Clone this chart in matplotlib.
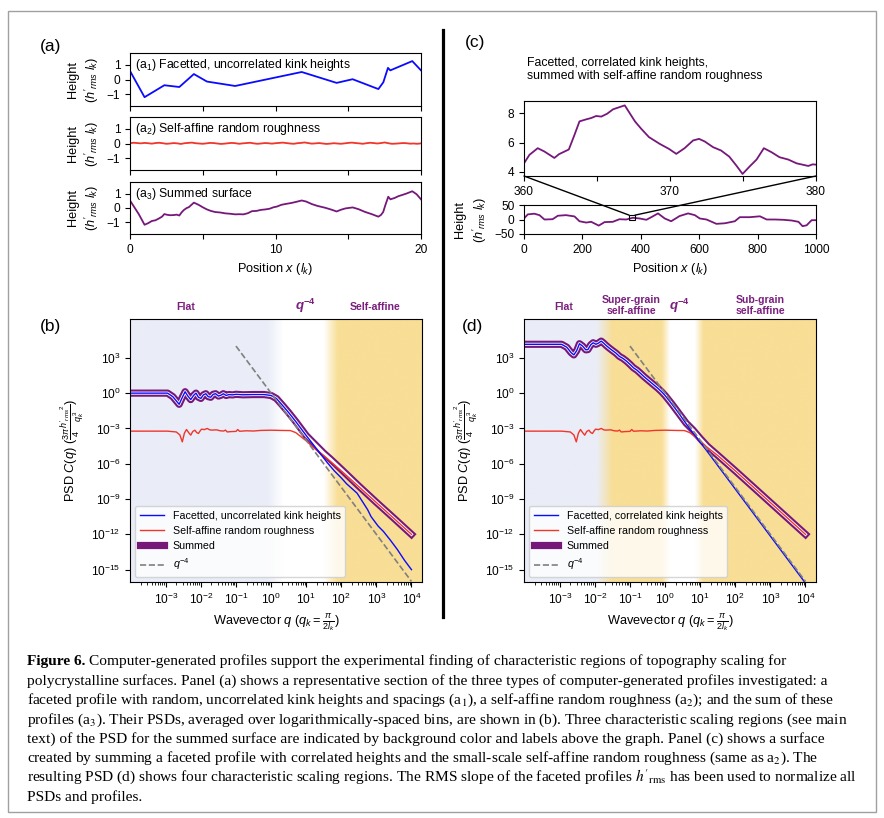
import numpy as np
import matplotlib
matplotlib.use('Agg')
import matplotlib.pyplot as plt
from matplotlib.patches import Rectangle, ConnectionPatch
from matplotlib.lines import Line2D
from matplotlib import ticker
from matplotlib.colors import to_rgb

plt.rcParams['font.family'] = ['Liberation Sans', 'DejaVu Sans']
plt.rcParams['mathtext.fontset'] = 'custom'
plt.rcParams['mathtext.rm'] = 'Liberation Sans'
plt.rcParams['mathtext.it'] = 'Liberation Sans:italic'
plt.rcParams['mathtext.bf'] = 'Liberation Sans:bold'
plt.rcParams['mathtext.bfit'] = 'Liberation Sans:italic:bold'
plt.rcParams['xtick.labelsize'] = 8.6
plt.rcParams['ytick.labelsize'] = 8.6
plt.rcParams['axes.labelsize'] = 9.2

# ---------------- data ----------------
# (a1) facetted profile, uncorrelated kink heights
a1_x = [0.0, 1.0, 2.36, 3.39, 4.39, 5.29, 7.23, 11.8, 14.2, 15.3, 17.07, 17.41, 17.73, 17.89, 19.4, 20.0]
a1_y = [0.58, -1.2, -0.39, -0.51, 0.37, -0.14, -0.44, 0.51, -0.23, 0.02, -0.65, -0.19, 0.79, 0.62, 1.25, 0.62]

# (a2) self-affine random roughness
a2_x = [0.0, 0.25, 0.5, 0.75, 1.0, 1.25, 1.5, 1.75, 2.0, 2.25, 2.5, 2.75, 3.0, 3.25, 3.5, 3.75,
        4.0, 4.25, 4.5, 4.75, 5.0, 5.25, 5.5, 5.75, 6.0, 6.25, 6.5, 6.75, 7.0, 7.25, 7.5, 7.75,
        8.0, 8.25, 8.5, 8.75, 9.0, 9.25, 9.5, 9.75, 10.0, 10.25, 10.5, 10.75, 11.0, 11.25, 11.5, 11.75,
        12.0, 12.25, 12.5, 12.75, 13.0, 13.25, 13.5, 13.75, 14.0, 14.25, 14.5, 14.75, 15.0, 15.25, 15.5, 15.75,
        16.0, 16.25, 16.5, 16.75, 17.0, 17.25, 17.5, 17.75, 18.0, 18.25, 18.5, 18.75, 19.0, 19.25, 19.5, 19.75, 20.0]
a2_y = [0.02, 0.05, 0.03, 0.01, 0.04, 0.02, -0.01, 0.03, 0.05, 0.02, -0.02, 0.0, 0.03, 0.01, -0.03, 0.02,
        0.04, 0.06, 0.02, 0.0, -0.02, 0.01, 0.04, 0.03, 0.0, -0.03, -0.01, 0.02, 0.04, 0.02, -0.02, 0.01,
        0.03, 0.05, 0.01, -0.02, 0.0, 0.03, 0.02, -0.01, 0.02, 0.04, 0.06, 0.03, 0.0, -0.02, 0.02, 0.04,
        0.07, 0.03, -0.01, 0.01, 0.03, 0.0, -0.03, -0.01, 0.02, 0.0, -0.02, 0.01, 0.04, 0.06, 0.03, 0.01,
        -0.02, 0.02, 0.05, 0.03, 0.0, 0.03, 0.07, 0.02, -0.02, -0.01, 0.01, 0.03, 0.02, -0.01, 0.0, -0.02, 0.01]

# (a3) summed surface
a3_x = [0.0, 0.3, 0.6, 1.0, 1.25, 1.5, 1.75, 2.0, 2.2, 2.36, 2.55, 2.75, 3.0, 3.2, 3.39, 3.55, 3.7, 3.9,
        4.05, 4.2, 4.39, 4.55, 4.75, 5.0, 5.29, 5.55, 5.86, 6.2, 6.54, 6.9, 7.23, 7.5, 7.8, 8.1, 8.38, 8.7,
        9.0, 9.29, 9.6, 9.86, 10.1, 10.4, 10.7, 11.1, 11.4, 11.8, 12.1, 12.5, 12.9, 13.4, 13.8, 14.2, 14.5,
        14.8, 15.3, 15.7, 16.15, 16.6, 17.07, 17.25, 17.4, 17.55, 17.75, 17.9, 18.2, 18.45, 18.7, 19.0, 19.2,
        19.4, 19.7, 20.0]
a3_y = [0.52, 0.05, -0.42, -1.16, -1.05, -0.9, -0.85, -0.72, -0.6, -0.42, -0.47, -0.5, -0.49, -0.46, -0.52,
        -0.3, -0.14, 0.0, 0.06, 0.2, 0.37, 0.3, 0.2, 0.05, -0.1, -0.2, -0.28, -0.31, -0.37, -0.4, -0.44, -0.43,
        -0.44, -0.36, -0.22, -0.2, -0.13, -0.1, -0.05, 0.05, 0.1, 0.22, 0.28, 0.35, 0.42, 0.52, 0.45, 0.27,
        0.14, 0.02, -0.1, -0.24, -0.12, -0.03, 0.04, -0.08, -0.27, -0.42, -0.6, -0.48, -0.28, 0.2, 0.78, 0.6,
        0.7, 0.82, 0.9, 1.0, 1.08, 1.16, 0.95, 0.6]

# (c) zoomed section 360-380
c_zoom_x = [360.0, 360.37, 360.94, 361.4, 362.08, 362.4, 363.07, 363.46, 363.8, 364.26, 364.6, 364.94, 365.3,
            365.7, 366.1, 366.9, 367.6, 368.03, 368.56, 369.29, 369.93, 370.43, 371.0, 371.58, 371.99, 372.38,
            372.95, 373.5, 374.06, 374.55, 374.97, 375.47, 375.93, 376.43, 376.96, 377.5, 378.1, 378.67,
            379.47, 379.77, 380.0]
c_zoom_y = [4.57, 5.15, 5.61, 5.38, 4.94, 5.2, 5.52, 6.53, 7.45, 7.59, 7.68, 7.82, 7.78, 7.98, 8.28, 8.55, 7.45,
            6.94, 6.37, 5.91, 5.56, 5.22, 5.61, 6.14, 6.25, 6.07, 5.68, 5.45, 5.03, 4.41, 3.84, 4.37, 4.83, 5.61,
            5.33, 4.99, 4.83, 4.57, 4.39, 4.5, 4.48]

# (c) full profile 0-1000
c_full_x = [0, 13, 35, 53, 70, 98, 116, 144, 173, 190, 213, 230, 256, 276, 304, 327, 350, 373, 396, 419, 436,
            459, 482, 504, 533, 562, 585, 602, 625, 659, 688, 722, 739, 773, 808, 831, 859, 888, 917, 940, 954,
            968, 985, 1000]
c_full_y = [3.5, 17.6, 20, 15, 0, 1, 13, 15, 10.6, -6, -10.6, -8, -21, -9, -8, 1, 0, 6, 3.5, -1, 8, 21, 3.5,
            -6, 12, 21, 15, 3.5, 0, -15, -13, -6, 8, 8, 11, 0, 0, -1, -3.5, -8, -23, -20, -2.4, -2.4]

# PSDs: log10 of wavevector and log10 of C(q)
red_lq = [-4.0, -2.95, -2.7, -2.6, -2.53, -2.47, -2.41, -2.35, -2.29, -2.23, -2.17, -2.12, -2.07, -2.02, -1.98,
          -1.9, -1.82, -1.75, -1.69, -1.55, -1.45, -1.35, -1.3, -1.25, -1.15, -1.0, -0.95, -0.9, -0.7, -0.5,
          -0.3, 0.0, 0.3, 0.55, 0.7, 0.85, 1.0, 1.2, 1.5, 2.0, 2.5, 3.0, 3.5, 4.0]
red_lc = [-3.23, -3.23, -3.3, -3.55, -4.14, -3.4, -3.09, -3.35, -3.57, -3.25, -3.15, -3.35, -3.43, -3.2, -3.06,
          -3.1, -3.0, -3.12, -3.14, -3.12, -3.2, -3.22, -3.14, -3.3, -3.27, -3.25, -3.09, -3.24, -3.2, -3.22,
          -3.17, -3.15, -3.17, -3.18, -3.35, -3.7, -4.05, -4.6, -5.3, -6.6, -7.95, -9.3, -10.65, -12.0]

blue_b_lq = [-4.0, -2.95, -2.8, -2.62, -2.52, -2.45, -2.37, -2.29, -2.21, -2.14, -2.07, -2.0, -1.93, -1.86,
             -1.79, -1.72, -1.65, -1.58, -1.5, -1.43, -1.36, -1.28, -1.2, -1.1, -1.0, -0.8, -0.5, -0.2,
             0.0, 0.15, 0.3, 0.5, 0.7, 1.0, 1.3, 1.6, 1.8, 2.0, 2.15, 2.3, 2.45, 2.6, 2.75, 2.85, 2.95,
             3.05, 3.2, 3.4, 3.6, 3.8, 4.0]
blue_b_lc = [0.0, 0.0, -0.3, -0.95, -0.3, 0.12, -0.25, -0.55, -0.2, 0.0, -0.35, -0.45, -0.15, -0.05,
             -0.3, -0.35, -0.1, -0.05, -0.25, -0.18, -0.05, -0.2, -0.12, -0.15, -0.1, -0.14, -0.12, -0.12,
             -0.2, -0.45, -0.95, -1.65, -2.4, -3.6, -4.75, -5.9, -6.6, -7.2, -7.7, -8.1, -8.5, -9.2, -9.9,
             -10.5, -10.9, -11.3, -11.75, -12.5, -13.3, -14.2, -15.0]

sum_b_lq = blue_b_lq[:34] + [1.3, 1.5, 1.7, 2.0, 2.5, 3.0, 3.5, 4.0]
sum_b_lc = blue_b_lc[:34] + [-4.5, -5.1, -5.63, -6.47, -7.9, -9.28, -10.63, -12.0]

blue_d_lq = [-4.0, -2.95, -2.8, -2.68, -2.6, -2.52, -2.44, -2.35, -2.26, -2.2, -2.12, -2.05, -1.97, -1.9,
             -1.82, -1.75, -1.68, -1.6, -1.5, -1.4, -1.3, -1.2, -1.1, -1.0, -0.9, -0.8, -0.7, -0.6, -0.5,
             -0.4, -0.3, -0.2, -0.1, 0.0, 0.2, 0.4, 0.6, 0.8, 1.0, 1.5, 2.0, 2.5, 3.0, 3.5, 4.0]
blue_d_lc = [4.15, 4.15, 3.9, 3.45, 3.25, 3.6, 4.2, 4.0, 3.68, 3.7, 4.1, 4.28, 4.15, 4.25, 4.42, 4.25, 4.05,
             3.85, 3.62, 3.4, 3.12, 2.95, 2.72, 2.45, 2.15, 1.95, 1.68, 1.4, 1.15, 0.9, 0.65, 0.4, 0.12,
             -0.2, -0.95, -1.75, -2.6, -3.4, -4.15, -6.15, -8.15, -10.15, -12.15, -14.15, -16.15]

sum_d_lq = blue_d_lq[:36] + [0.6, 0.8, 1.0, 1.2, 1.5, 2.0, 2.5, 3.0, 3.5, 4.0]
sum_d_lc = blue_d_lc[:36] + [-2.55, -3.15, -3.85, -4.5, -5.28, -6.6, -7.95, -9.3, -10.65, -12.0]

qm4_lq = [-1.0, 4.0]
qm4_lc = [4.0, -16.0]

# ---------------- styling ----------------
BLUE = '#0a0aff'
RED = '#f0352a'
PURPLE = '#76187a'
LBL = '#7a1f7d'
BG_BLUE = '#eaedf7'
BG_GOLD = '#f8de96'

W, H = 884, 818
fig = plt.figure(figsize=(W / 100, H / 100), dpi=100)


def ax_px(l, t, r, b, **kw):
    return fig.add_axes([l / W, 1 - b / H, (r - l) / W, (b - t) / H], **kw)


HLAB = "Height\n($h'_{rms}$ $l_k$)"

# ---------------- panel (a) ----------------
a_boxes = [(130, 53, 421, 106), (130, 117, 421, 170), (130, 182, 421, 234)]
a_texts = [r"($\mathregular{a_1}$) Facetted, uncorrelated kink heights",
           r"($\mathregular{a_2}$) Self-affine random roughness",
           r"($\mathregular{a_3}$) Summed surface"]
a_data = [(a1_x, a1_y, BLUE), (a2_x, a2_y, RED), (a3_x, a3_y, PURPLE)]
for i, (box, txt, (xx, yy, col)) in enumerate(zip(a_boxes, a_texts, a_data)):
    ax = ax_px(*box)
    ax.plot(xx, yy, color=col, lw=1.3)
    ax.set_xlim(0, 20)
    ax.set_ylim(-1.8, 1.8)
    ax.set_yticks([-1, 0, 1])
    ax.set_xticks([0, 5, 10, 15, 20])
    if i == 2:
        ax.set_xticklabels(['0', '', '10', '', '20'])
        ax.set_xlabel('Position $x$ ($l_k$)')
    else:
        ax.set_xticklabels([])
    ax.set_ylabel(HLAB, linespacing=1.3)
    ax.text(0.017, 0.77, txt, transform=ax.transAxes, va='center', ha='left', fontsize=8.8)

fig.text(40 / W, 1 - 47 / H, '(a)', fontsize=12.5, va='center')

# ---------------- panel (c) ----------------
ct = ax_px(524, 101, 816, 176)
ct.plot(c_zoom_x, c_zoom_y, color=PURPLE, lw=1.3)
ct.set_xlim(360, 380)
ct.set_ylim(3.7, 8.85)
ct.set_xticks([360, 365, 370, 375, 380])
ct.set_xticklabels(['360', '', '370', '', '380'])
ct.set_yticks([4, 6, 8])

cb = ax_px(524, 205, 816, 234)
cb.plot(c_full_x, c_full_y, color=PURPLE, lw=1.3)
cb.set_xlim(0, 1000)
cb.set_ylim(-50, 50)
cb.set_xticks([0, 200, 400, 600, 800, 1000])
cb.set_yticks([-50, 0, 50])
cb.set_xlabel('Position $x$ ($l_k$)')
cb.set_ylabel(HLAB, linespacing=1.3)
cb.add_patch(Rectangle((360, -3), 20, 18, fill=False, ec='k', lw=0.8, zorder=5))
for xv in (360, 380):
    cp = ConnectionPatch(xyA=(xv, 3.7), coordsA=ct.transData, xyB=(xv, 15), coordsB=cb.transData,
                         color='k', lw=1.0)
    fig.add_artist(cp)

fig.text(465 / W, 1 - 43 / H, '(c)', fontsize=12.5, va='center')
fig.text(527 / W, 1 - 63 / H, 'Facetted, correlated kink heights,', fontsize=8.8, va='center')
fig.text(527 / W, 1 - 76 / H, 'summed with self-affine random roughness', fontsize=8.8, va='center')

# ---------------- PSD panels ----------------
XL = (-4.02, 4.3)
YL = (-16.05, 6.3)


def add_bg(box, stops):
    bg = ax_px(*box, zorder=-1)
    xs = np.linspace(XL[0], XL[1], 1200)
    pos = [s[0] for s in stops]
    cols = np.array([to_rgb(s[1]) for s in stops])
    img = np.stack([np.interp(xs, pos, cols[:, k]) for k in range(3)], axis=-1)[None, :, :]
    bg.imshow(img, extent=(0, 1, 0, 1), aspect='auto', interpolation='bilinear')
    bg.set_xlim(0, 1)
    bg.set_ylim(0, 1)
    bg.axis('off')


def psd_axes(box, blue_lq, blue_lc, sum_lq, sum_lc, blue_label, labels):
    ax = ax_px(*box)
    ax.patch.set_alpha(0)
    ax.set_xscale('log')
    ax.set_yscale('log')
    ax.plot(10.0 ** np.array(sum_lq), 10.0 ** np.array(sum_lc), color=PURPLE, lw=5.2,
            label='Summed', zorder=2, solid_capstyle='projecting')
    ax.plot(10.0 ** np.array(sum_lq), 10.0 ** np.array(sum_lc), color='white', lw=2.2, zorder=2.1)
    ax.plot(10.0 ** np.array(red_lq), 10.0 ** np.array(red_lc), color=RED, lw=1.0,
            label='Self-affine random roughness', zorder=2.2)
    ax.plot(10.0 ** np.array(blue_lq), 10.0 ** np.array(blue_lc), color=BLUE, lw=1.0,
            label=blue_label, zorder=2.3)
    ax.plot(10.0 ** np.array(qm4_lq), 10.0 ** np.array(qm4_lc), color='grey', lw=1.2, ls='--',
            label='$q^{-4}$', zorder=3)
    ax.set_xlim(10 ** XL[0], 10 ** XL[1])
    ax.set_ylim(10 ** YL[0], 10 ** YL[1])
    ax.set_xticks([1e-3, 1e-2, 1e-1, 1e0, 1e1, 1e2, 1e3, 1e4])
    ax.xaxis.set_minor_locator(ticker.LogLocator(base=10, subs=np.arange(2, 10) * 1.0, numticks=100))
    ax.xaxis.set_minor_formatter(ticker.NullFormatter())
    ax.set_yticks([1e-15, 1e-12, 1e-9, 1e-6, 1e-3, 1e0, 1e3])
    ax.yaxis.set_minor_locator(ticker.NullLocator())
    ax.set_xlabel(r'Wavevector $q$ ($q_k = \frac{\pi}{2l_k}$)')
    ax.set_ylabel(r"PSD $C(q)$ $(\frac{3\pi}{4}\frac{{h'_{rms}}^{2}}{q_k^3})$")
    h, lab = ax.get_legend_handles_labels()
    order = [2, 1, 0, 3]
    ax.legend([h[k] for k in order], [lab[k] for k in order], loc='lower left', fontsize=7.7,
              framealpha=0.8, handlelength=2.3)
    for (lx, ly, txt, fs) in labels:
        ax.text(10 ** lx, ly, txt, transform=ax.get_xaxis_transform(), ha='center', va='center',
                color=LBL, fontweight='bold', fontsize=fs, linespacing=1.05)
    return ax


QLAB = r'$\mathbfit{q}^{\mathbf{-4}}$'

box_b = (130, 319, 422, 582)
add_bg(box_b, [(XL[0], BG_BLUE), (-0.1, BG_BLUE), (0.35, 'white'), (1.5, 'white'), (1.9, BG_GOLD),
               (XL[1], BG_GOLD)])
psd_axes(box_b, blue_b_lq, blue_b_lc, sum_b_lq, sum_b_lc, 'Facetted, uncorrelated kink heights',
         [(-2.42, 1.046, 'Flat', 7.6), (0.97, 1.05, QLAB, 9.5), (2.96, 1.046, 'Self-affine', 7.6)])
fig.text(40 / W, 1 - 326 / H, '(b)', fontsize=12.5, va='center')

box_d = (524, 319, 816, 582)
add_bg(box_d, [(XL[0], BG_BLUE), (-1.95, BG_BLUE), (-1.5, BG_GOLD), (-0.1, BG_GOLD), (0.15, 'white'),
               (0.85, 'white'), (1.1, BG_GOLD), (XL[1], BG_GOLD)])
psd_axes(box_d, blue_d_lq, blue_d_lc, sum_d_lq, sum_d_lc, 'Facetted, correlated kink heights',
         [(-2.9, 1.046, 'Flat', 7.6), (-0.96, 1.051, 'Super-grain\nself-affine', 7.6),
          (0.41, 1.05, QLAB, 9.5), (2.72, 1.051, 'Sub-grain\nself-affine', 7.6)])
fig.text(462 / W, 1 - 326 / H, '(d)', fontsize=12.5, va='center')

# separator and frame
fig.add_artist(Line2D([443 / W, 443 / W], [1 - 30 / H, 1 - 617 / H], color='k', lw=2.3))
fig.add_artist(Rectangle((8 / W, 1 - 812 / H), (876 - 8) / W, (812 - 11) / H, fill=False,
                         ec='#a0a0a0', lw=1.0, transform=fig.transFigure))

# ---------------- caption ----------------
cap_lines = [
    "Computer-generated profiles support the experimental finding of characteristic regions of topography scaling for",
    "polycrystalline surfaces. Panel (a) shows a representative section of the three types of computer-generated profiles investigated: a",
    "faceted profile with random, uncorrelated kink heights and spacings (a$_1$), a self-affine random roughness (a$_2$); and the sum of these",
    "profiles (a$_3$). Their PSDs, averaged over logarithmically-spaced bins, are shown in (b). Three characteristic scaling regions (see main",
    "text) of the PSD for the summed surface are indicated by background color and labels above the graph. Panel (c) shows a surface",
    "created by summing a faceted profile with correlated heights and the small-scale self-affine random roughness (same as a$_2$). The",
    "resulting PSD (d) shows four characteristic scaling regions. The RMS slope of the faceted profiles $h'_{\\rm rms}$ has been used to normalize all",
    "PSDs and profiles.",
]
CAPFS = 11.1
renderer = fig.canvas.get_renderer()
for k, line in enumerate(cap_lines):
    yb = 1 - (665.5 + 19.3 * k) / H
    x0 = 27 / W
    if k == 0:
        t0 = fig.text(x0, yb, 'Figure 6.', fontsize=CAPFS, fontweight='bold', va='baseline',
                      family='Liberation Serif')
        bb = t0.get_window_extent(renderer)
        x0 = (bb.x1 + 4) / W
    fig.text(x0, yb, line, fontsize=CAPFS, va='baseline', family='Liberation Serif',
             math_fontfamily='stix')

fig.savefig('out.png', dpi=100)
